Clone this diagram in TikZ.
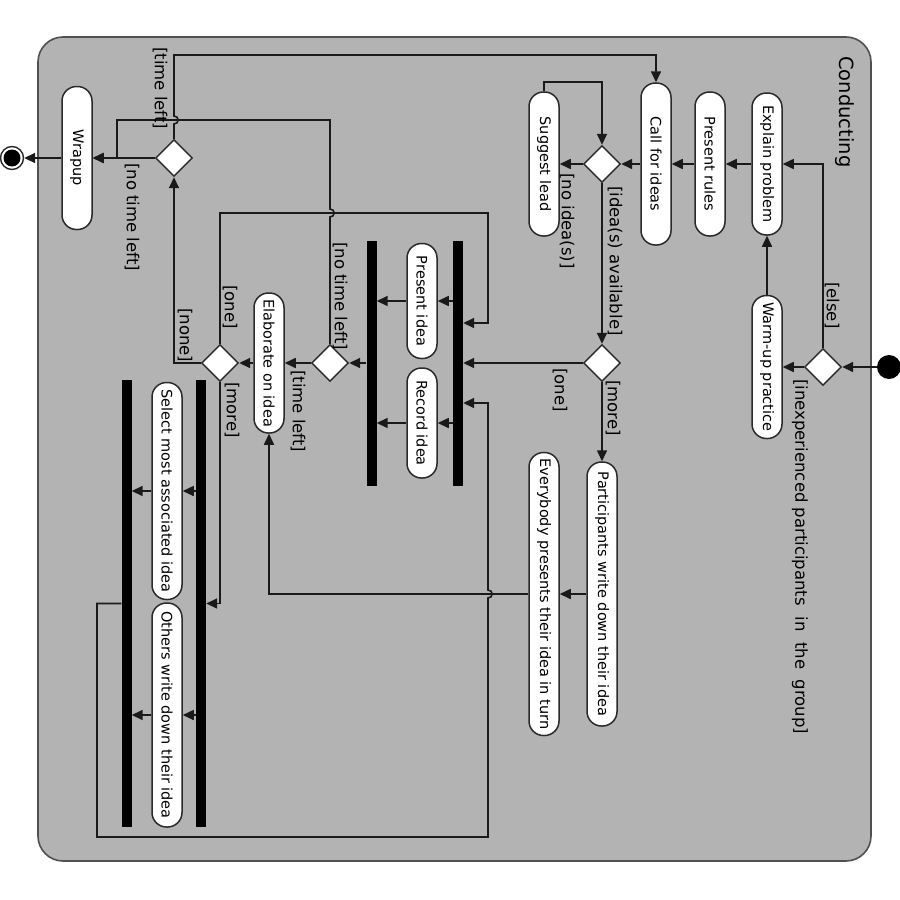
\documentclass[tikz,border=0pt]{standalone}
\usepackage{fontspec}
\usepackage{graphicx}
\usetikzlibrary{arrows.meta,shapes.geometric}
\newfontfamily\dejavu{DejaVu Sans}
\newcommand\actfont{\dejavu\fontsize{14.5}{17}\selectfont}
\newcommand\guardfont{\dejavu\fontsize{16.5}{19}\selectfont}
\newcommand\titlefont{\dejavu\fontsize{19.5}{22}\selectfont}
\newcommand\vtext[1]{\rotatebox{-90}{#1}}
\definecolor{framefill}{HTML}{B3B3B3}
\definecolor{frameline}{HTML}{505050}
\definecolor{nodeline}{HTML}{2A2A2A}
\definecolor{flowline}{HTML}{1A1A1A}

\tikzset{
  act/.style={draw=nodeline, fill=white, line width=1.5pt, rounded corners=14.5pt,
              minimum width=30pt, inner sep=0pt, font=\actfont},
  dec/.style={diamond, draw=nodeline, fill=white, line width=1.4pt,
              minimum width=37pt, minimum height=37pt, inner sep=0pt},
  syncbar/.style={fill=black, minimum width=10pt, inner sep=0pt},
  flow/.style={draw=flowline, line width=1.6pt, -{Triangle[length=11pt,width=10pt]}},
  guard/.style={inner sep=0pt, font=\guardfont, anchor=north, text=black},
}

\begin{document}
\begin{tikzpicture}[x=1pt, y=-1pt]
\useasboundingbox (0,0) rectangle (900,900);

% activity frame
\draw[fill=framefill, draw=frameline, line width=1.6pt, rounded corners=25pt]
  (38,37) rectangle (871,861);
\node[inner sep=0pt, anchor=north, font=\titlefont] (title) at (845,56) {\vtext{Conducting}};

% start and end
\node[circle, fill=black, minimum size=24pt, inner sep=0pt] (init) at (889,367) {};
\node[circle, draw=nodeline, fill=white, line width=1.4pt, minimum size=23pt, inner sep=0pt] (final) at (12,158) {};
\fill[black] (final.center) circle (8.5pt);

% decisions
\node[dec] (d1) at (823,367) {};
\node[dec] (d2) at (602,164) {};
\node[dec] (d3) at (602,363) {};
\node[dec] (d4) at (330,363) {};
\node[dec] (d5) at (174,158) {};
\node[dec] (d6) at (220,363) {};

% actions
\node[act, minimum height=142pt] (explain) at (767,164) {\vtext{Explain problem}};
\node[act, minimum height=144pt] (rules) at (710,164) {\vtext{Present rules}};
\node[act, minimum height=162pt] (call) at (656,164) {\vtext{Call for ideas}};
\node[act, minimum height=144pt] (suggest) at (544,164) {\vtext{Suggest lead}};
\node[act, minimum height=143pt] (warm) at (767,367) {\vtext{Warm-up practice}};
\node[act, minimum height=115pt] (present) at (422,301) {\vtext{Present idea}};
\node[act, minimum height=110pt] (record) at (422,423) {\vtext{Record idea}};
\node[act, minimum height=140pt] (elaborate) at (269,363) {\vtext{Elaborate on idea}};
\node[act, minimum height=264pt] (participants) at (602,594) {\vtext{Participants write down their idea}};
\node[act, minimum height=283pt] (everybody) at (544,594) {\vtext{Everybody presents their idea in turn}};
\node[act, minimum height=217pt] (select) at (167,491) {\vtext{Select most associated idea}};
\node[act, minimum height=224pt] (others) at (167,715) {\vtext{Others write down their idea}};
\node[act, minimum height=143pt] (wrapup) at (77,158) {\vtext{Wrapup}};

% fork and join bars
\node[syncbar, minimum height=245pt] (fork1) at (458,363) {};
\node[syncbar, minimum height=245pt] (join1) at (371.5,363) {};
\node[syncbar, minimum height=447pt] (fork2) at (201,603.5) {};
\node[syncbar, minimum height=447pt] (join2) at (126.5,603.5) {};

% bend points
\coordinate (k9) at (573,82);
\coordinate (k23) at (488,323);
\coordinate (k30) at (488,403);

% flows
\draw[flow] (init) -- (d1.east);
\draw[flow] (d1.west) -- (warm.east);
\draw[flow] (d1.north) |- (explain.east);
\draw[flow] (warm.north) -- (explain.south);
\draw[flow] (explain.west) -- (rules.east);
\draw[flow] (rules.west) -- (call.east);
\draw[flow] (call.west) -- (d2.east);
\draw[flow] (d2.west) -- (suggest.east);
\draw[flow] (suggest.north) |- (k9) -| (d2.north);
\draw[flow] (d2.south) -- (d3.north);
\draw[flow] (d3.west) -- (fork1.east |- d3);
\draw[flow] (d3.south) -- (participants.north);
\draw[flow] (participants.west) -- (everybody.east);
\draw[flow] (everybody.west) -| (elaborate.south);

\draw[flow] (fork1.west |- present) -- (present.east);
\draw[flow] (fork1.west |- record) -- (record.east);
\draw[flow] (present.west) -- (join1.east |- present);
\draw[flow] (record.west) -- (join1.east |- record);
\draw[flow] (join1.west |- d4) -- (d4.east);

\draw[flow] (d4.west) -- (elaborate.east);
\draw[flow] (d4.north) -- (330,217) .. controls (335.5,217) and (335.5,209) .. (330,209)
  -- (330,120) -- (117,120) -- (117,158) -- (wrapup.east);
\draw[flow] (elaborate.west) -- (d6.east);
\draw[flow] (d6.north) -- (220,213) -- (488,213) -- (k23) -- (fork1.east |- k23);
\draw[flow] (d6.west) -| (d5.south);
\draw[flow] (d6.south) |- (fork2.east);

\draw[flow] (fork2.west |- select) -- (select.east);
\draw[flow] (fork2.west |- others) -- (others.east);
\draw[flow] (select.west) -- (join2.east |- select);
\draw[flow] (others.west) -- (join2.east |- others);
\draw[flow] (join2.west) -- (97,603.5) -- (97,837) -- (488,837)
  -- (488,598) .. controls (493.5,598) and (493.5,590) .. (488,590)
  -- (k30) -- (fork1.east |- k30);

\draw[flow] (d5.north) -- (174,124) .. controls (179.5,124) and (179.5,116) .. (174,116)
  -- (174,55) -| (call.north);
\draw[flow] (d5.west) -- (wrapup.east);
\draw[flow] (wrapup.west) -- (final.east);

% guards
\node[guard] (g1) at (800,379) {\vtext{[inexperienced participants\ \ in\ \ the\ \ group]}};
\node[guard] (g2) at (832,282) {\vtext{[else]}};
\node[guard] (g3) at (567,173) {\vtext{[no idea(s)]}};
\node[guard] (g4) at (615,186) {\vtext{[idea(s) available]}};
\node[guard] (g5) at (560,368) {\vtext{[one]}};
\node[guard] (g6) at (613,380) {\vtext{[more]}};
\node[guard] (g7) at (298,370) {\vtext{[time left]}};
\node[guard] (g8) at (340,242) {\vtext{[no time left]}};
\node[guard] (g9) at (230,285) {\vtext{[one]}};
\node[guard] (g10) at (185,308) {\vtext{[none]}};
\node[guard] (g11) at (232,382) {\vtext{[more]}};
\node[guard] (g12) at (160,47) {\vtext{[time left]}};
\node[guard] (g13) at (132,163) {\vtext{[no time left]}};
\end{tikzpicture}
\end{document}
